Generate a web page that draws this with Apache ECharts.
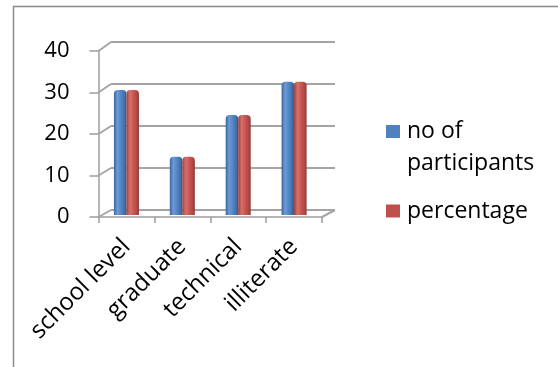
<!DOCTYPE html>
<html>
<head>
<meta charset="utf-8">
<script src="https://cdn.jsdelivr.net/npm/echarts@6/dist/echarts.min.js"></script>
<style>
  html, body { margin: 0; padding: 0; background: #ffffff; }
  #chart { width: 558px; height: 367px; }
</style>
</head>
<body>
<div id="chart"></div>
<script>
// Education level of the participants
const categories = ['school level', 'graduate', 'technical', 'illiterate'];
const participants = [30, 14, 24, 32];
const percentage = [30, 14, 24, 32];
const seriesNames = ['no of participants', 'percentage'];
const legendLines = [['no of', 'participants'], ['percentage']];
const yTicks = [0, 10, 20, 30, 40];

const FONT = '"Open Sans", "Noto Sans", sans-serif';
const GRID_LINE = '#a4a4a4';
const AXIS_LINE = '#9c9c9c';
const BLUE = '#4f81bd';
const RED = '#c0504d';

function cylinder(edge, light, mid, shade, dark) {
  return new echarts.graphic.LinearGradient(0, 0, 1, 0, [
    { offset: 0, color: edge },
    { offset: 0.28, color: light },
    { offset: 0.55, color: mid },
    { offset: 0.85, color: shade },
    { offset: 1, color: dark }
  ]);
}

const chart = echarts.init(document.getElementById('chart'), null, { renderer: 'canvas' });

const yMin = yTicks[0], yMax = yTicks[yTicks.length - 1], yStep = yTicks[1] - yTicks[0];

chart.setOption({
  animation: false,
  backgroundColor: '#ffffff',
  grid: [
    // front plane: value axis, category axis and floor edge
    { left: 98.5, top: 51, width: 223.5, height: 166 },
    // back wall: gridlines
    { left: 111, top: 42, width: 224, height: 168 },
    // bars, set between the two planes
    { left: 98.5, top: 48.3, width: 223.5, height: 166.7 }
  ],
  xAxis: [
    {
      type: 'category', gridIndex: 0, data: categories,
      axisLine: { lineStyle: { color: AXIS_LINE, width: 1.5 } },
      axisTick: { show: true, length: 6, lineStyle: { color: AXIS_LINE, width: 1.5 } },
      axisLabel: { rotate: 45, margin: 26, fontSize: 24, color: '#000', fontFamily: FONT },
      splitLine: { show: false }
    },
    {
      type: 'category', gridIndex: 1, data: categories,
      axisLine: { show: false }, axisTick: { show: false }, axisLabel: { show: false },
      splitLine: { show: false }
    },
    {
      type: 'category', gridIndex: 2, data: categories, show: false
    }
  ],
  yAxis: [
    {
      type: 'value', gridIndex: 0, min: yMin, max: yMax, interval: yStep,
      axisLine: { show: true, lineStyle: { color: AXIS_LINE, width: 1.5 } },
      axisTick: { show: true, length: 9, lineStyle: { color: AXIS_LINE, width: 1.5 } },
      axisLabel: { margin: 29, fontSize: 22, color: '#000', fontFamily: FONT },
      splitLine: { show: false }
    },
    {
      type: 'value', gridIndex: 1, min: yMin, max: yMax, interval: yStep,
      axisLine: { show: false }, axisTick: { show: false }, axisLabel: { show: false },
      splitLine: { show: true, lineStyle: { color: GRID_LINE, width: 2 } }
    },
    {
      type: 'value', gridIndex: 2, min: yMin, max: yMax, interval: yStep, show: false
    }
  ],
  series: [
    {
      name: seriesNames[0], type: 'bar', xAxisIndex: 2, yAxisIndex: 2,
      data: participants, barWidth: 12.5, barGap: '0%', z: 5,
      itemStyle: {
        color: cylinder('#3a659c', '#6c9bd6', '#5387c6', '#416fa9', '#2f5787'),
        borderRadius: [4, 4, 0, 0]
      }
    },
    {
      name: seriesNames[1], type: 'bar', xAxisIndex: 2, yAxisIndex: 2,
      data: percentage, barWidth: 12.5, barGap: '0%', z: 5,
      itemStyle: {
        color: cylinder('#9c3d3a', '#d8716d', '#c85752', '#b04744', '#883331'),
        borderRadius: [4, 4, 0, 0]
      }
    }
  ]
});

// Perspective edges joining the front plane to the back wall, frame and legend
const frontRect = chart.getModel().getComponent('grid', 0).coordinateSystem.getRect();
const backRect = chart.getModel().getComponent('grid', 1).coordinateSystem.getRect();
const graphics = [];

yTicks.forEach(function (v) {
  const yf = chart.convertToPixel({ yAxisIndex: 0 }, v);
  const yb = chart.convertToPixel({ yAxisIndex: 1 }, v);
  graphics.push({
    type: 'line', z: 1,
    shape: { x1: frontRect.x, y1: yf, x2: backRect.x, y2: yb },
    style: { stroke: GRID_LINE, lineWidth: 2 }
  });
});
{
  const yf0 = chart.convertToPixel({ yAxisIndex: 0 }, yMin);
  const yb0 = chart.convertToPixel({ yAxisIndex: 1 }, yMin);
  graphics.push({
    type: 'line', z: 1,
    shape: { x1: frontRect.x + frontRect.width, y1: yf0, x2: backRect.x + backRect.width, y2: yb0 },
    style: { stroke: GRID_LINE, lineWidth: 2 }
  });
}

// chart frame
graphics.push({
  type: 'rect', z: 0,
  shape: { x: 13.5, y: 6.5, width: 700, height: 500 },
  style: { fill: 'none', stroke: '#8a8a8a', lineWidth: 1.5 }
});

// legend
const legendColors = [BLUE, RED];
const legendRows = [131.5, 211];
legendLines.forEach(function (lines, i) {
  const y0 = legendRows[i];
  graphics.push({
    type: 'rect', z: 10,
    shape: { x: 386, y: y0 - 6.5, width: 14, height: 13 },
    style: { fill: legendColors[i] }
  });
  lines.forEach(function (t, j) {
    graphics.push({
      type: 'text', z: 10,
      x: 407, y: y0 + j * 31.5,
      style: { text: t, fill: '#000', fontSize: 23, fontFamily: FONT, verticalAlign: 'middle', align: 'left' }
    });
  });
});

chart.setOption({ graphic: graphics });
</script>
</body>
</html>
